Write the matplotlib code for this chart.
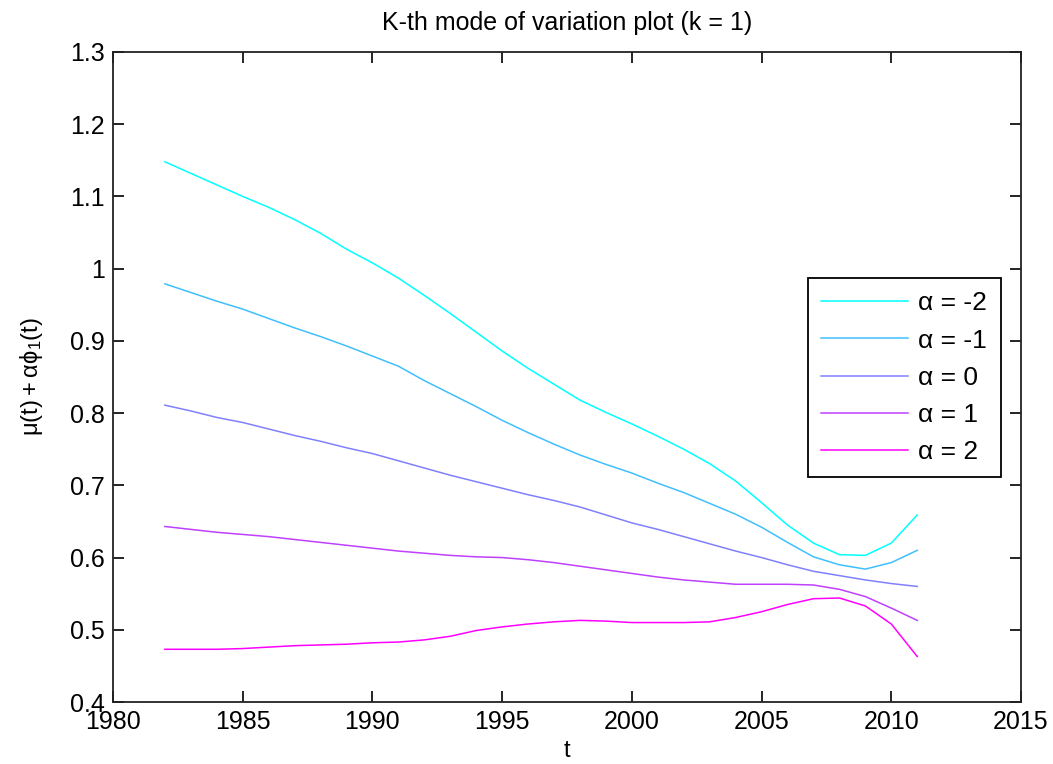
import matplotlib
matplotlib.use("Agg")
import matplotlib.pyplot as plt
import numpy as np

years = list(range(1982, 2012))

alpha_m2 = [1.148, 1.132, 1.116, 1.100, 1.085, 1.068, 1.049, 1.027, 1.008, 0.987,
            0.963, 0.938, 0.912, 0.886, 0.862, 0.840, 0.818, 0.801, 0.785, 0.768,
            0.750, 0.730, 0.706, 0.676, 0.645, 0.620, 0.604, 0.603, 0.620, 0.659]
alpha_m1 = [0.979, 0.967, 0.955, 0.944, 0.931, 0.918, 0.906, 0.893, 0.879, 0.865,
            0.845, 0.827, 0.809, 0.790, 0.773, 0.757, 0.742, 0.729, 0.717, 0.703,
            0.690, 0.675, 0.660, 0.642, 0.621, 0.601, 0.590, 0.584, 0.593, 0.610]
alpha_0 = [0.811, 0.803, 0.794, 0.787, 0.778, 0.769, 0.761, 0.752, 0.744, 0.734,
           0.724, 0.714, 0.705, 0.696, 0.687, 0.679, 0.670, 0.659, 0.648, 0.639,
           0.629, 0.619, 0.609, 0.600, 0.590, 0.581, 0.575, 0.569, 0.564, 0.560]
alpha_p1 = [0.643, 0.639, 0.635, 0.632, 0.629, 0.625, 0.621, 0.617, 0.613, 0.609,
            0.606, 0.603, 0.601, 0.600, 0.597, 0.593, 0.588, 0.583, 0.578, 0.573,
            0.569, 0.566, 0.563, 0.563, 0.563, 0.562, 0.556, 0.546, 0.530, 0.513]
alpha_p2 = [0.473, 0.473, 0.473, 0.474, 0.476, 0.478, 0.479, 0.480, 0.482, 0.483,
            0.486, 0.491, 0.499, 0.504, 0.508, 0.511, 0.513, 0.512, 0.510, 0.510,
            0.510, 0.511, 0.517, 0.525, 0.535, 0.543, 0.544, 0.533, 0.508, 0.463]

series = [alpha_m2, alpha_m1, alpha_0, alpha_p1, alpha_p2]
labels = ["α = -2", "α = -1", "α = 0", "α = 1", "α = 2"]
colors = [(0, 1, 1), (0.25, 0.75, 1), (0.5, 0.5, 1), (0.75, 0.25, 1), (1, 0, 1)]

xticks = [1980, 1985, 1990, 1995, 2000, 2005, 2010, 2015]
yticks = [0.4, 0.5, 0.6, 0.7, 0.8, 0.9, 1.0, 1.1, 1.2, 1.3]
yticklabels = ["0.4", "0.5", "0.6", "0.7", "0.8", "0.9", "1", "1.1", "1.2", "1.3"]

plt.rcParams['font.family'] = ['Liberation Sans', 'DejaVu Sans']

fig = plt.figure(figsize=(10.53, 7.64), dpi=100)
ax = fig.add_axes([113/1053, 62/764, 908/1053, 650/764])

for vals, lab, c in zip(series, labels, colors):
    ax.plot(years, vals, color=c, lw=1.1, label=lab)

ax.set_xlim(1980, 2015)
ax.set_ylim(0.4, 1.3)
ax.set_xticks(xticks)
ax.set_xticklabels([str(t) for t in xticks])
ax.set_yticks(yticks)
ax.set_yticklabels(yticklabels)
ax.tick_params(direction='in', length=8, width=1.2, top=True, right=True,
               labelsize=18, colors='black', pad=6)
for s in ax.spines.values():
    s.set_linewidth(1.3)
    s.set_color('#222222')

ax.set_title("K-th mode of variation plot (k = 1)", fontsize=18, pad=16)
ax.set_xlabel("t", fontsize=17, labelpad=4)
ax.set_ylabel(r"$\mathregular{\mu(t)+\alpha\phi_1(t)}$", fontsize=17, labelpad=18)

leg = ax.legend(loc='upper left', bbox_to_anchor=(0.765, 0.652), fontsize=19,
                frameon=True, fancybox=False, edgecolor='black', framealpha=1,
                handlelength=3.3, handletextpad=0.4, labelspacing=0.5,
                borderpad=0.5, borderaxespad=0)
leg.get_frame().set_linewidth(1.3)

fig.savefig("out.png", dpi=100)
